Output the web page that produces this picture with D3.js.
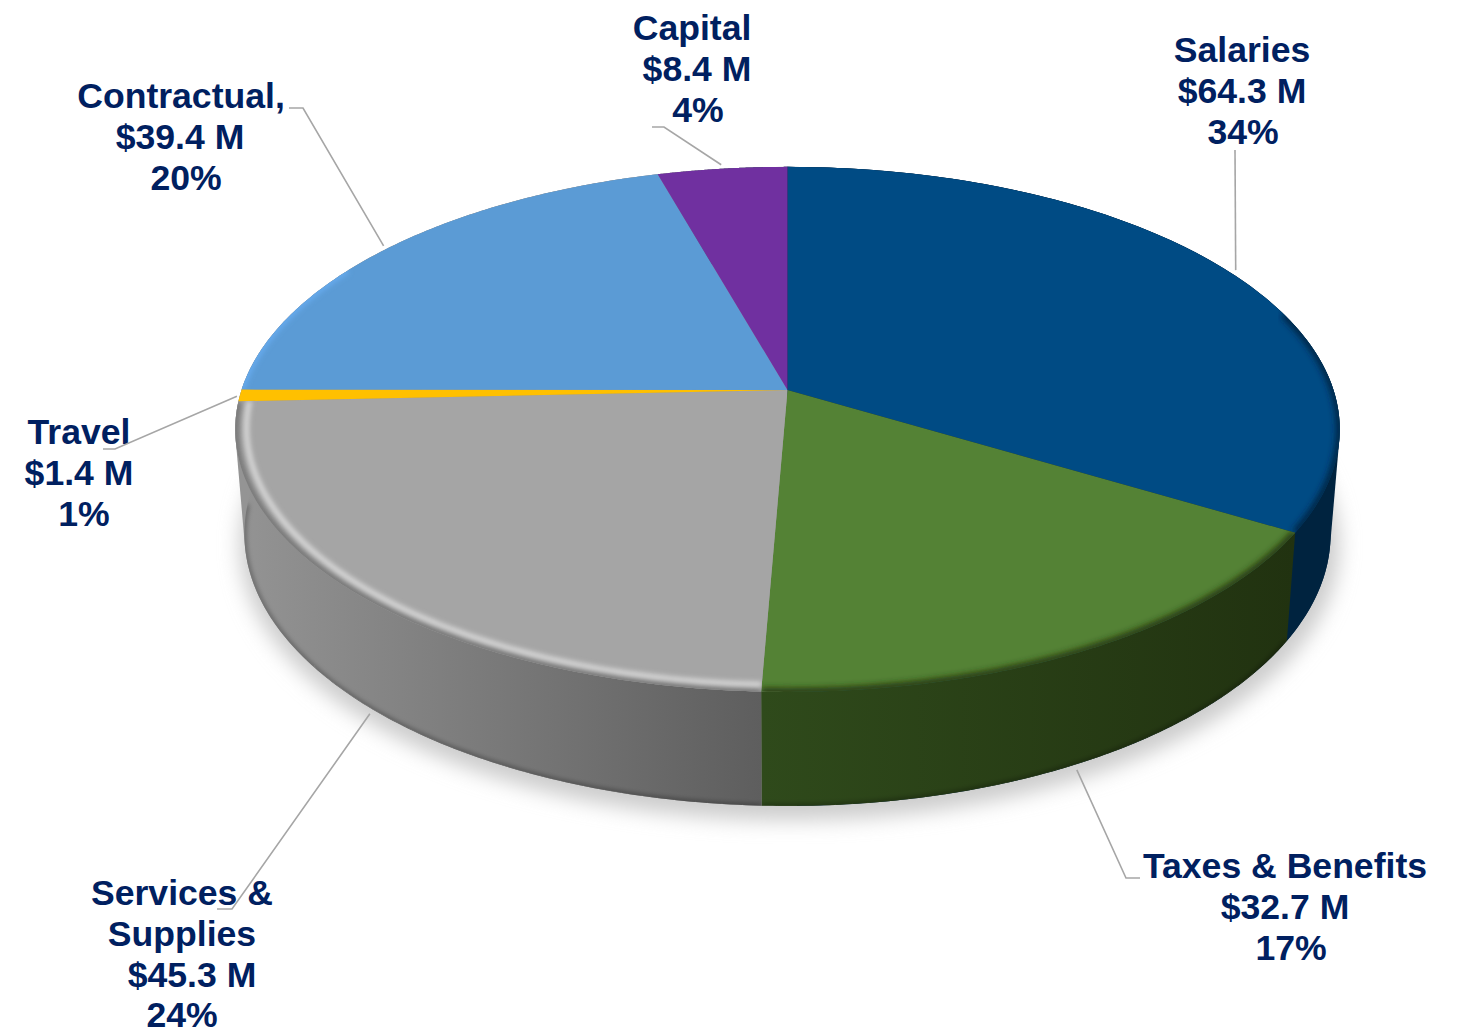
<!DOCTYPE html>
<html><head><meta charset="utf-8">
<style>html,body{margin:0;padding:0;background:#fff}svg{display:block}
text{font-family:"Liberation Sans",Arial,sans-serif;font-weight:700;font-size:35.6px;fill:#002060;text-anchor:middle}</style>
<script src="https://cdn.jsdelivr.net/npm/d3@7"></script></head><body>
<svg id="c" width="1464" height="1034"></svg>
<script>
// ---- data ----
const categories = ["Salaries","Taxes & Benefits","Services & Supplies","Travel","Contractual","Capital"];
const amounts = [64.3, 32.7, 45.3, 1.4, 39.4, 8.4];
const nameLines = [["Salaries"],["Taxes & Benefits"],["Services &","Supplies"],["Travel"],["Contractual,"],["Capital"]];
const amountLabels = ["$64.3 M","$32.7 M","$45.3 M","$1.4 M","$39.4 M","$8.4 M"];
const percentLabels = ["34%","17%","24%","1%","20%","4%"];

// ---- styles / layout ----
const topColors = ["#004b84","#548235","#a5a5a5","#ffc000","#5b9bd5","#7030a0"];
const wallFrom  = ["#00233f","#2f4a1b","#949494","#949494","#949494","#949494"];
const wallTo    = ["#00233f","#213210","#5e5e5e","#949494","#949494","#00233f"];
const labelXs = [[1242,1242,1243],[1285,1285,1291],[182,182,192,182],[79,79,84],[181,180,186],[692,697,698]];
const labelY0 = [62,878,905,444,108,40];
const elbows = [[[1235,150]],[[1126,878],[1140,878]],[[232,909],[217,909]],[[115,449],[103,449]],[[303,108],[289,108]],[[664,127],[652,127]]];
const anchorOnWall = [false,true,true,false,false,false];
const anchorShift = [[6,-2],[-15,-2],[21,3],[-3,1],[-5,-2],[-1,-4]];
const lineGap = 40.8;

// perspective planes of the disc
const topPlane = {cx:787.5, cy:390, a:546, b:256.6, k:0.15};
const botPlane = {cx:787.5, cy:493, a:537, b:266, k:0.15};
const project = (p, th, r=1) => {
  const u = r*Math.sin(th), v = -r*Math.cos(th), d = 1 - p.k*v;
  return [p.cx + p.a*u/d, p.cy + p.b*v/d];
};

const svg = d3.select("#c");
const defs = svg.append("defs");
[["b2",2.4],["b3",3.4],["b10",10]].forEach(([id,s])=>{
  defs.append("filter").attr("id",id).attr("x","-10%").attr("y","-10%").attr("width","120%").attr("height","120%")
    .append("feGaussianBlur").attr("stdDeviation",s);
});

const arcs = d3.pie().value(d=>d).sort(null)(amounts);
const line = d3.line();
const sample = (a0,a1,n=120)=>d3.range(n+1).map(d3.scaleLinear().domain([0,n]).range([a0,a1]));

// shadow
const fullCircle = sample(0,2*Math.PI,240);
svg.append("path")
  .attr("d", line(fullCircle.map(t=>project(botPlane,t,1.012)))+"Z")
  .attr("transform","translate(2,10)")
  .attr("fill","#cccccc").attr("filter","url(#b10)");

// silhouette of the whole drum, so the outline runs straight from top rim to bottom rim
const hull = d3.polygonHull(fullCircle.map(t=>project(topPlane,t)).concat(fullCircle.map(t=>project(botPlane,t))));
const hg = defs.append("linearGradient").attr("id","hull");
hg.append("stop").attr("offset",0.5).attr("stop-color",wallFrom[2]);
hg.append("stop").attr("offset",0.5).attr("stop-color",wallTo[0]);
svg.append("path").attr("d",line(hull)+"Z").attr("fill","url(#hull)");

// walls
arcs.forEach((d,i)=>{
  const ts = sample(d.startAngle,d.endAngle);
  const pts = ts.map(t=>project(topPlane,t)).concat(ts.slice().reverse().map(t=>project(botPlane,t)));
  const ext = d3.extent(pts,p=>p[0]);
  const g = defs.append("linearGradient").attr("id","w"+i).attr("gradientUnits","userSpaceOnUse")
     .attr("x1",ext[0]).attr("x2",ext[1]).attr("y1",0).attr("y2",0);
  g.append("stop").attr("offset",0).attr("stop-color",wallFrom[i]);
  g.append("stop").attr("offset",1).attr("stop-color",wallTo[i]);
  defs.append("clipPath").attr("id","wc"+i).append("path").attr("d",line(pts)+"Z");
  const gg = svg.append("g");
  gg.append("path").attr("d",line(pts)+"Z").attr("fill",`url(#w${i})`);
  if (i === 1 || i === 2) {
    gg.append("g").attr("clip-path",`url(#wc${i})`).append("path")
      .attr("d",line(ts.map(t=>project(botPlane,t)))).attr("fill","none")
      .attr("stroke","#1a1a1a").attr("stroke-opacity",.45).attr("stroke-width",3).attr("filter","url(#b2)");
  }
});

// top slices with bevel
const center = project(topPlane,0,0);
const deg = Math.PI/180;
arcs.forEach((d,i)=>{
  const ts = sample(d.startAngle,d.endAngle);
  const pts = [center].concat(ts.map(t=>project(topPlane,t)));
  defs.append("clipPath").attr("id","tc"+i).append("path").attr("d",line(pts)+"Z");
  svg.append("path").attr("d",line(pts)+"Z").attr("fill",topColors[i]);
  const clip = svg.append("g").attr("clip-path",`url(#tc${i})`);
  const a0 = Math.max(d.startAngle,72*deg), a1 = Math.min(d.endAngle,268*deg);
  if (a1 > a0 && i !== 3 && i !== 4) {
    clip.append("path").attr("d",line(sample(a0,a1).map(t=>project(topPlane,t,1.0))))
      .attr("fill","none").attr("stroke",i===2?"#6e6e6e":wallTo[i])
      .attr("stroke-width",7).attr("filter","url(#b3)");
  }
  if (i === 2) {
    clip.append("path").attr("d",line(sample(d.startAngle,d.endAngle).map(t=>project(topPlane,t,0.98))))
      .attr("fill","none").attr("stroke","#dcdcdc").attr("stroke-width",5).attr("filter","url(#b2)");
  }
  if (i === 4) {
    clip.append("path").attr("d",line(sample(d.startAngle,300*deg).map(t=>project(topPlane,t,1.0))))
      .attr("fill","none").attr("stroke","#66aaee").attr("stroke-width",6).attr("filter","url(#b2)");
  }
});

// labels
arcs.forEach((d,i)=>{
  const lines = nameLines[i].concat([amountLabels[i],percentLabels[i]]);
  const t = svg.append("text").attr("aria-label",categories[i]);
  lines.forEach((s,j)=>{
    t.append("tspan").attr("x",labelXs[i][j]).attr("y",labelY0[i]+j*lineGap).text(s);
  });
});

// leader lines
arcs.forEach((d,i)=>{
  const mid = (d.startAngle+d.endAngle)/2;
  const p = anchorOnWall[i] ? project(botPlane,mid,1.03) : project(topPlane,mid,1.0);
  const anchor = [p[0]+anchorShift[i][0], p[1]+anchorShift[i][1]];
  svg.append("path").attr("d",line([anchor].concat(elbows[i])))
    .attr("fill","none").attr("stroke","#a6a6a6").attr("stroke-width",1.6);
});
</script></body></html>
